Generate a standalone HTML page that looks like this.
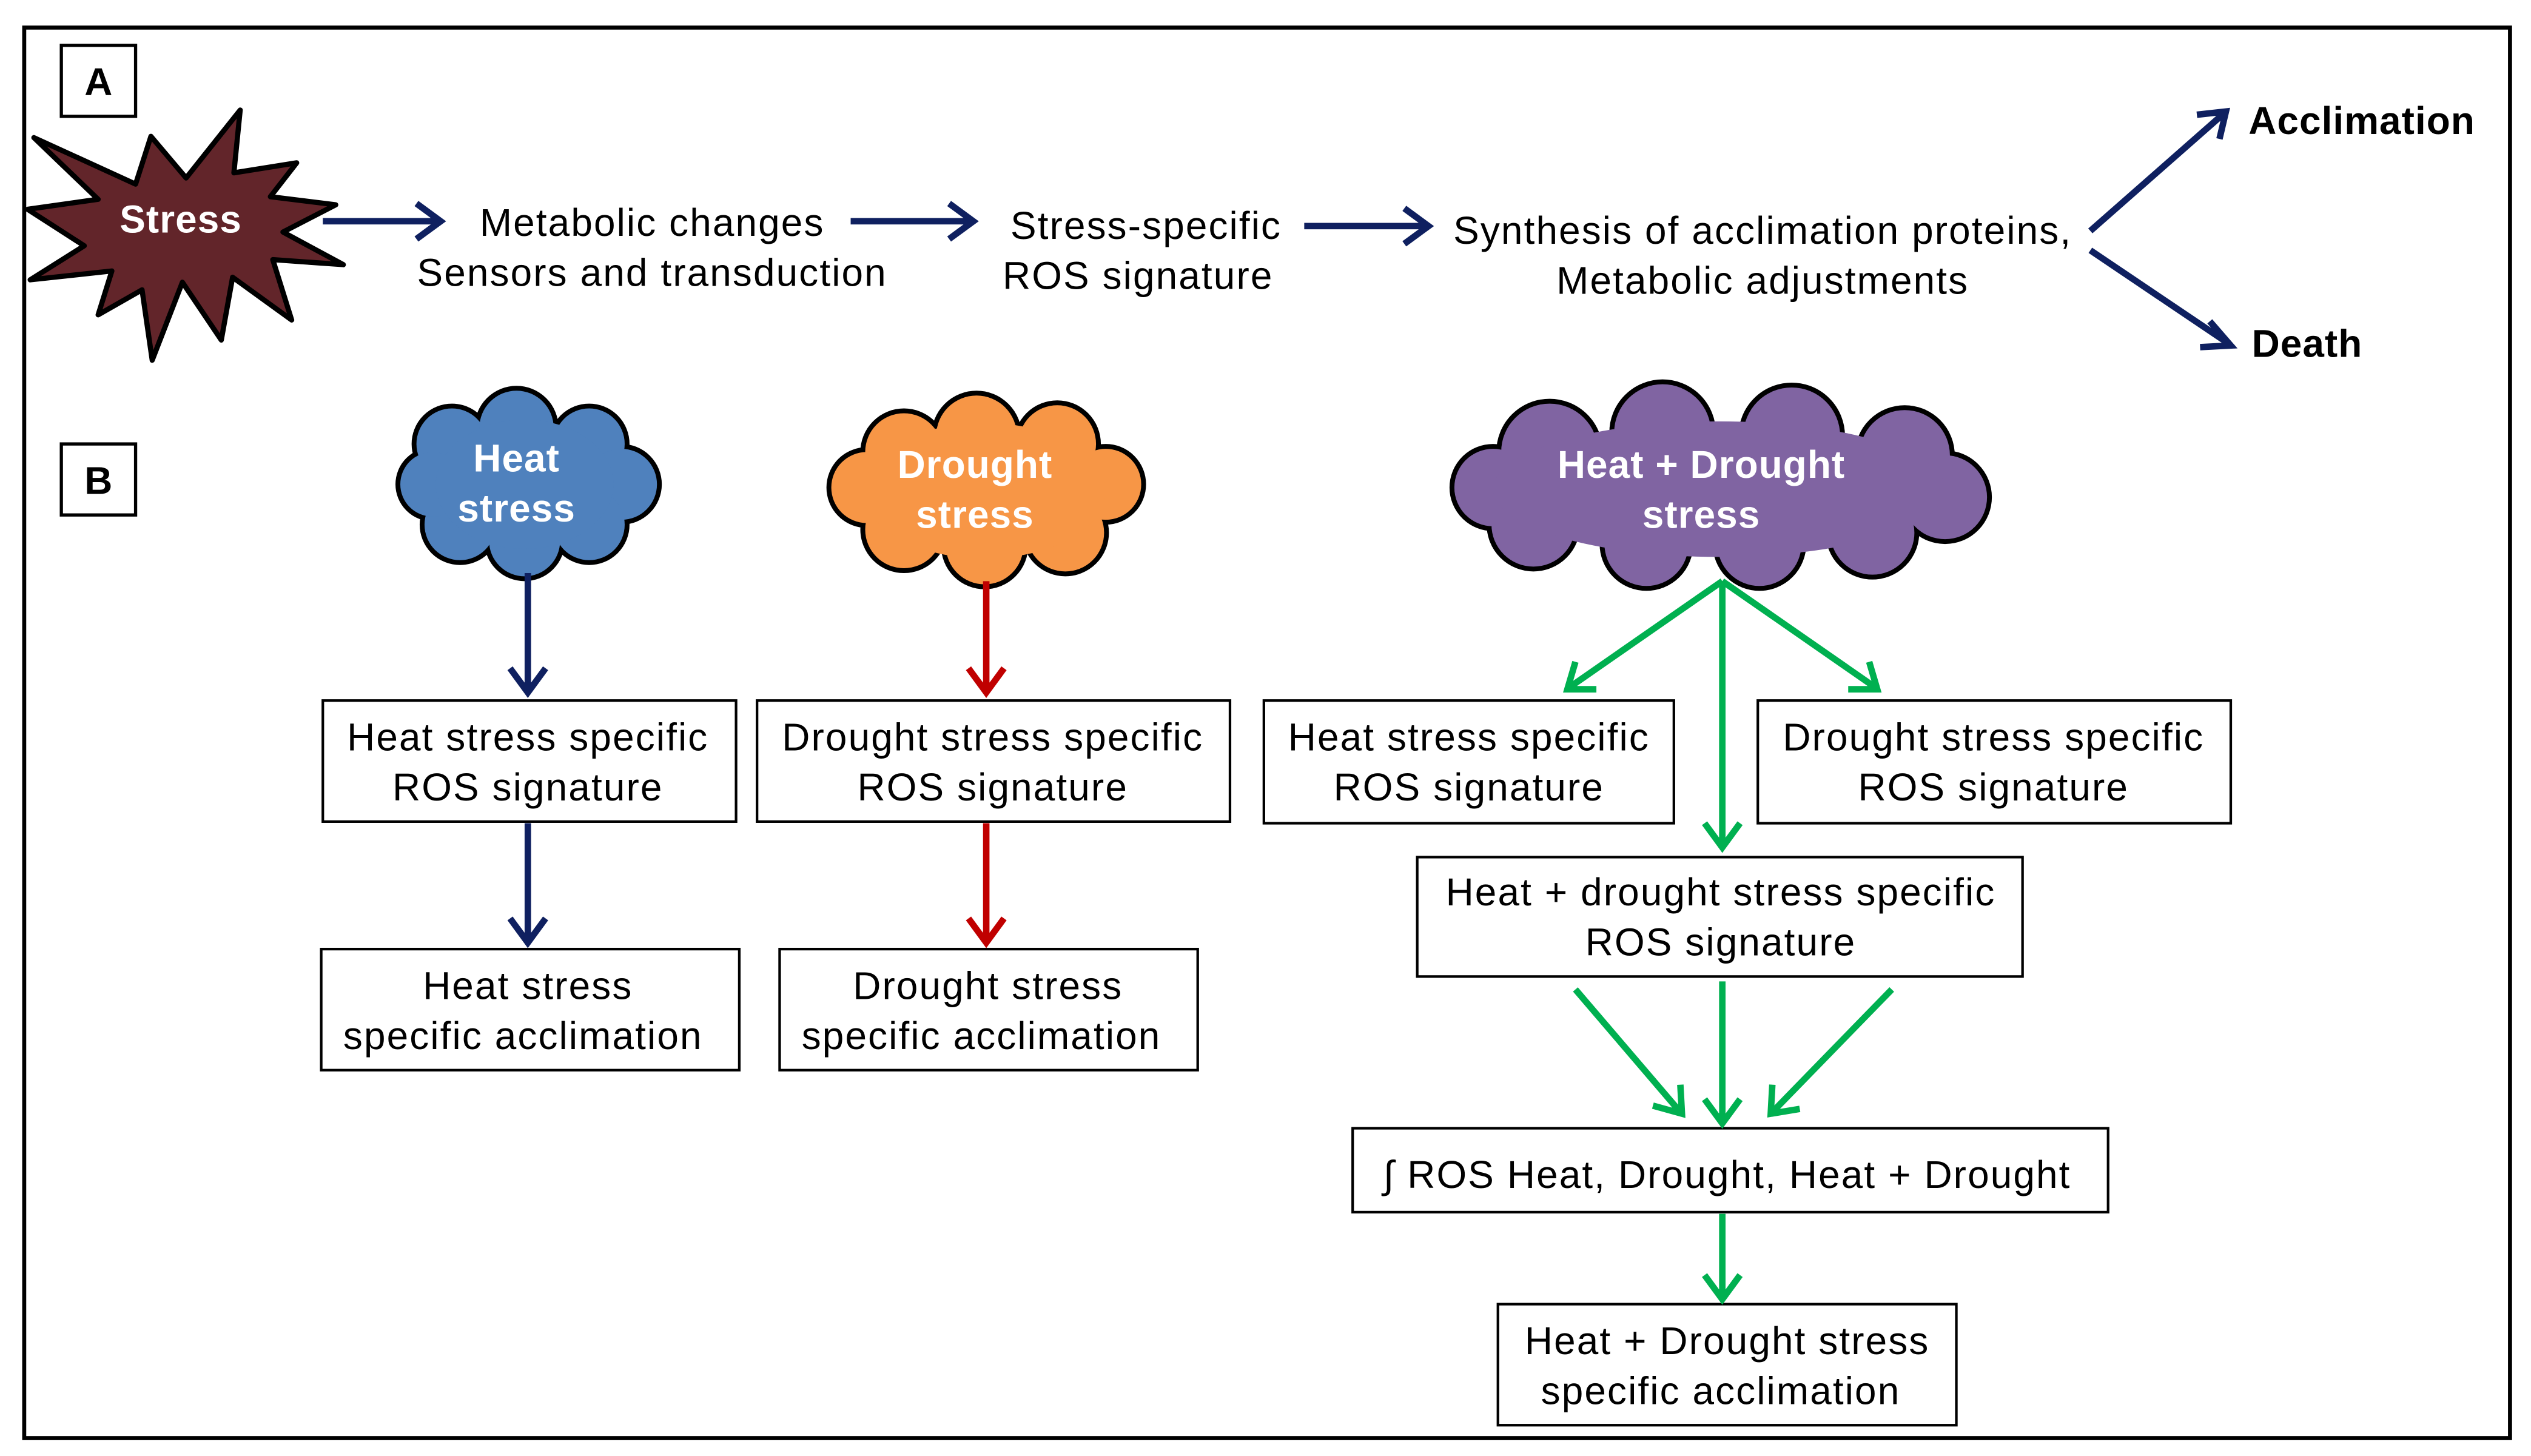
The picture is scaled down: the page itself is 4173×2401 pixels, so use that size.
<!DOCTYPE html>
<html><head><meta charset="utf-8"><style>
html,body{margin:0;padding:0;background:#fff;}
svg{display:block;}
text{font-family:"Liberation Sans",Arial,sans-serif;}
.r{letter-spacing:0.8px;}
.b{letter-spacing:0.4px;}
</style></head><body>
<svg width="4173" height="2401" viewBox="0 0 1568 902" xmlns="http://www.w3.org/2000/svg">
<rect x="0" y="0" width="1568" height="902" fill="#fff"/>
<rect x="15" y="17" width="1540" height="874" fill="none" stroke="#000" stroke-width="2.5"/>
<rect x="38" y="28" width="46" height="44" fill="#fff" stroke="#000" stroke-width="2"/>
<text x="61" y="59" font-size="24" font-weight="bold" text-anchor="middle">A</text>
<rect x="38" y="275" width="46" height="44" fill="#fff" stroke="#000" stroke-width="2"/>
<text x="61" y="306" font-size="24" font-weight="bold" text-anchor="middle">B</text>

<polygon points="21,85.2 84,114 93.5,84.4 115.3,110.2 148.8,68.1 144.9,107 183.8,100.8 167.5,121.8 208,126.8 175.3,143.7 212.7,163.9 169,160.8 180.7,198.2 144.1,171.7 137.1,210.6 113,174.8 94.3,223.1 88,179.5 60.8,195 69.3,167.8 18.7,173.3 52.2,152.2 17.1,129.6 60.8,123.4" fill="#62252A" stroke="#000" stroke-width="3.2" stroke-linejoin="round"/>
<text class="b" x="112" y="144" font-size="24" font-weight="bold" fill="#fff" text-anchor="middle">Stress</text>

<g stroke="#0F2060" stroke-width="4" fill="none" stroke-linecap="butt">
<path d="M200 137 H272 M258 126 L273 137 L258 148"/>
<path d="M527 137 H602 M588 126 L603 137 L588 148"/>
<path d="M808 140 H884 M870 129 L885 140 L870 151"/>
<path d="M1295 143 L1378 70 M1361 71 L1379 69 L1375 86"/>
<path d="M1295 155 L1381 213 M1369 199 L1382 214 L1363 215"/>
</g>
<g class="r" font-size="24" text-anchor="middle" fill="#000">
<text x="404" y="146">Metabolic changes</text>
<text x="404" y="177">Sensors and transduction</text>
<text x="710" y="148">Stress-specific</text>
<text x="705" y="179">ROS signature</text>
<text x="1092" y="151">Synthesis of acclimation proteins,</text>
<text x="1092" y="182">Metabolic adjustments</text>
</g>
<text class="b" x="1393" y="83" font-size="24" font-weight="bold">Acclimation</text>
<text class="b" x="1395" y="221" font-size="24" font-weight="bold">Death</text>

<g stroke="#000" stroke-width="6">
<circle cx="280" cy="275" r="22"/><circle cx="320" cy="265" r="23"/><circle cx="365" cy="275" r="22"/><circle cx="385" cy="300" r="22"/><circle cx="365" cy="325" r="22"/><circle cx="325" cy="335" r="22"/><circle cx="285" cy="325" r="22"/><circle cx="268" cy="300" r="20"/>
</g>
<g fill="#4F81BD">
<circle cx="280" cy="275" r="22"/><circle cx="320" cy="265" r="23"/><circle cx="365" cy="275" r="22"/><circle cx="385" cy="300" r="22"/><circle cx="365" cy="325" r="22"/><circle cx="325" cy="335" r="22"/><circle cx="285" cy="325" r="22"/><circle cx="268" cy="300" r="20"/>
<ellipse cx="325" cy="300" rx="55" ry="40"/>
</g>
<text class="b" x="320" y="292" font-size="24" font-weight="bold" fill="#fff" text-anchor="middle">Heat</text>
<text class="b" x="320" y="323" font-size="24" font-weight="bold" fill="#fff" text-anchor="middle">stress</text>

<g stroke="#000" stroke-width="6">
<circle cx="560" cy="280" r="24"/><circle cx="605" cy="270" r="25"/><circle cx="655" cy="275" r="24"/><circle cx="685" cy="300" r="22"/><circle cx="660" cy="330" r="24"/><circle cx="610" cy="338" r="24"/><circle cx="560" cy="328" r="24"/><circle cx="537" cy="302" r="22"/>
</g>
<g fill="#F79646">
<circle cx="560" cy="280" r="24"/><circle cx="605" cy="270" r="25"/><circle cx="655" cy="275" r="24"/><circle cx="685" cy="300" r="22"/><circle cx="660" cy="330" r="24"/><circle cx="610" cy="338" r="24"/><circle cx="560" cy="328" r="24"/><circle cx="537" cy="302" r="22"/>
<ellipse cx="610" cy="304" rx="75" ry="42"/>
</g>
<text class="b" x="604" y="296" font-size="24" font-weight="bold" fill="#fff" text-anchor="middle">Drought</text>
<text class="b" x="604" y="327" font-size="24" font-weight="bold" fill="#fff" text-anchor="middle">stress</text>

<g stroke="#000" stroke-width="6">
<circle cx="960" cy="280" r="30"/><circle cx="1030" cy="268" r="30"/><circle cx="1110" cy="270" r="30"/><circle cx="1180" cy="282" r="28"/><circle cx="1205" cy="308" r="26"/><circle cx="1160" cy="330" r="26"/><circle cx="1090" cy="337" r="26"/><circle cx="1020" cy="337" r="26"/><circle cx="950" cy="325" r="26"/><circle cx="925" cy="302" r="24"/>
</g>
<g fill="#8064A2">
<circle cx="960" cy="280" r="30"/><circle cx="1030" cy="268" r="30"/><circle cx="1110" cy="270" r="30"/><circle cx="1180" cy="282" r="28"/><circle cx="1205" cy="308" r="26"/><circle cx="1160" cy="330" r="26"/><circle cx="1090" cy="337" r="26"/><circle cx="1020" cy="337" r="26"/><circle cx="950" cy="325" r="26"/><circle cx="925" cy="302" r="24"/>
<ellipse cx="1065" cy="303" rx="140" ry="42"/>
</g>
<text class="b" x="1054" y="296" font-size="24" font-weight="bold" fill="#fff" text-anchor="middle">Heat + Drought</text>
<text class="b" x="1054" y="327" font-size="24" font-weight="bold" fill="#fff" text-anchor="middle">stress</text>

<g fill="#fff" stroke="#000" stroke-width="1.6">
<rect x="200" y="434" width="256" height="75"/>
<rect x="469" y="434" width="293" height="75"/>
<rect x="199" y="588" width="259" height="75"/>
<rect x="483" y="588" width="259" height="75"/>
<rect x="783" y="434" width="254" height="76"/>
<rect x="1089" y="434" width="293" height="76"/>
<rect x="878" y="531" width="375" height="74"/>
<rect x="838" y="699" width="468" height="52"/>
<rect x="928" y="808" width="284" height="75"/>
</g>
<g class="r" font-size="24" text-anchor="middle" fill="#000">
<text x="327" y="465">Heat stress specific</text><text x="327" y="496">ROS signature</text>
<text x="615" y="465">Drought stress specific</text><text x="615" y="496">ROS signature</text>
<text x="327" y="619">Heat stress</text><text x="324" y="650">specific acclimation</text>
<text x="612" y="619">Drought stress</text><text x="608" y="650">specific acclimation</text>
<text x="910" y="465">Heat stress specific</text><text x="910" y="496">ROS signature</text>
<text x="1235" y="465">Drought stress specific</text><text x="1235" y="496">ROS signature</text>
<text x="1066" y="561">Heat + drought stress specific</text><text x="1066" y="592">ROS signature</text>
<text x="1070" y="736">∫ ROS Heat, Drought, Heat + Drought</text>
<text x="1070" y="839">Heat + Drought stress</text><text x="1066" y="870">specific acclimation</text>
</g>

<g stroke="#0F2060" stroke-width="4" fill="none">
<path d="M327 355 V428 M316 414 L327 429 L338 414"/>
<path d="M327 510 V583 M316 569 L327 584 L338 569"/>
</g>
<g stroke="#C00000" stroke-width="4" fill="none">
<path d="M611 360 V428 M600 414 L611 429 L622 414"/>
<path d="M611 510 V583 M600 569 L611 584 L622 569"/>
</g>
<g stroke="#00B050" stroke-width="4" fill="none">
<path d="M1067 360 L972 426 M976 410 L971 427 L989 427"/>
<path d="M1067 360 V524 M1056 510 L1067 525 L1078 510"/>
<path d="M1067 360 L1162 426 M1145 427 L1163 427 L1158 410"/>
<path d="M976 613 L1041 689 M1024 685 L1042 690 L1041 672"/>
<path d="M1067 608 V695 M1056 681 L1067 696 L1078 681"/>
<path d="M1172 613 L1098 689 M1098 672 L1097 690 L1115 687"/>
<path d="M1067 752 V804 M1056 790 L1067 805 L1078 790"/>
</g>
</svg>
</body></html>
